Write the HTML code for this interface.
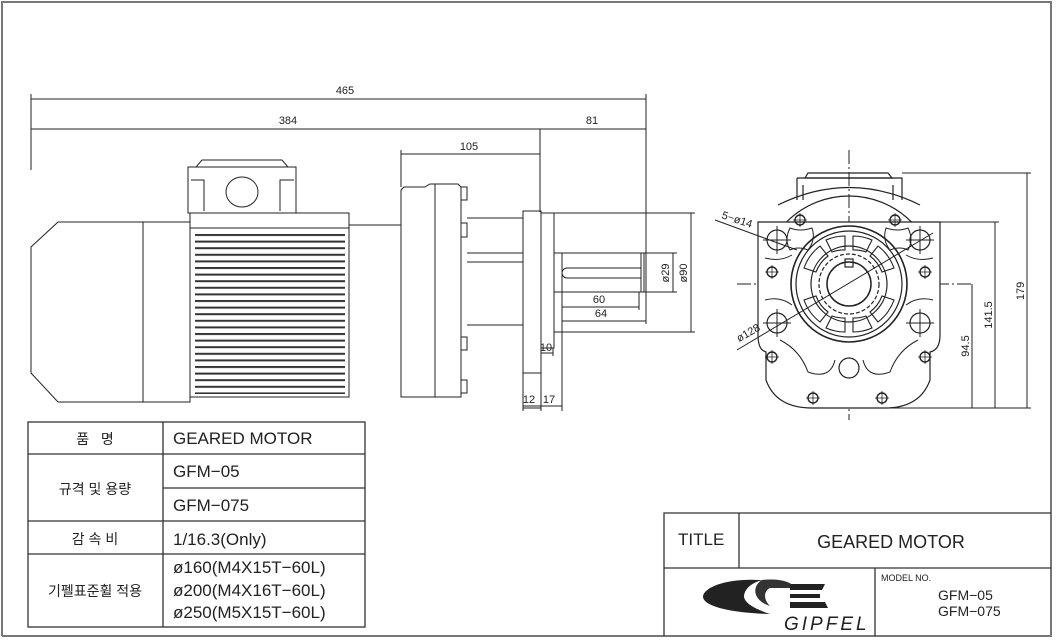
<!DOCTYPE html>
<html><head><meta charset="utf-8"><style>
html,body{margin:0;padding:0;background:#fff;}
svg{display:block;}
text{font-family:"Liberation Sans","Noto Sans CJK KR",sans-serif;fill:#222;}
</style></head><body>
<svg width="1056" height="642" viewBox="0 0 1056 642" xmlns="http://www.w3.org/2000/svg">
<defs>
<pattern id="fins" x="0" y="234" width="10" height="6.6" patternUnits="userSpaceOnUse">
<rect x="0" y="0" width="10" height="2" fill="#333"/>
</pattern>
</defs>
<rect x="0" y="0" width="1056" height="642" fill="#fff"/>
<path d="M2,636 V2 H1051 V636 H2" fill="none" stroke="#777" stroke-width="2"/>

<g stroke="#222" stroke-width="1" fill="none">
<line x1="31" y1="99" x2="646" y2="99"/>
<line x1="31" y1="129" x2="646" y2="129"/>
<line x1="401" y1="154" x2="540" y2="154"/>
<line x1="31" y1="94" x2="31" y2="170"/>
<line x1="646" y1="94" x2="646" y2="255"/>
<line x1="540" y1="129" x2="540" y2="212"/>
<line x1="401" y1="150" x2="401" y2="187"/>

<path d="M143,222 H58 L31,247 V373 L58,402 H143 Z"/>
<rect x="143" y="222" width="47" height="180"/>
<rect x="190" y="213" width="159" height="184"/>
<line x1="190" y1="228" x2="349" y2="228"/>
<rect x="195" y="234" width="150" height="160" fill="url(#fins)" stroke="none"/>
<path d="M202,160 H282 L288,167 H196 Z"/>
<rect x="188" y="167" width="108" height="46"/>
<path d="M191,180 H204 V211 M294,180 H280 V211"/>
<ellipse cx="242" cy="192" rx="16" ry="15"/>
<line x1="349" y1="225" x2="401" y2="225"/>
<path d="M401,397 V190 L404,187 H425 L430,184 H458 L461,187 V397 Z"/>
<line x1="435" y1="184" x2="435" y2="397"/>
<rect x="461" y="187" width="6" height="13"/>
<rect x="461" y="223" width="6" height="14"/>
<rect x="461" y="337" width="6" height="13"/>
<rect x="461" y="380" width="6" height="13"/>
<line x1="467" y1="218" x2="523" y2="218"/>
<line x1="467" y1="253" x2="523" y2="253"/>
<line x1="467" y1="262" x2="523" y2="262"/>
<line x1="467" y1="325" x2="523" y2="325"/>
<rect x="523" y="211" width="18" height="197"/>
<line x1="523" y1="373" x2="541" y2="373"/>
<rect x="541" y="213" width="13" height="135"/>
<rect x="554" y="253" width="90" height="39"/>
<line x1="562" y1="253" x2="562" y2="292"/>
<path d="M641,268 H567 A5,5 0 0 0 567,278 H641"/>
<rect x="641" y="253" width="5" height="39"/>
<line x1="646" y1="253" x2="677" y2="253"/>
<line x1="646" y1="292" x2="677" y2="292"/>
<line x1="673" y1="253" x2="673" y2="292"/>
<line x1="554" y1="213" x2="695" y2="213"/>
<line x1="554" y1="332" x2="695" y2="332"/>
<line x1="691" y1="213" x2="691" y2="332"/>
<line x1="562" y1="292" x2="562" y2="324"/>
<line x1="562" y1="307" x2="639" y2="307"/>
<line x1="639" y1="292" x2="639" y2="310"/>
<line x1="562" y1="321" x2="646" y2="321"/>
<line x1="646" y1="292" x2="646" y2="324"/>
<line x1="541" y1="348" x2="541" y2="356"/>
<line x1="553" y1="348" x2="553" y2="356"/>
<line x1="541" y1="353" x2="553" y2="353"/>
<line x1="523" y1="408" x2="523" y2="411"/>
<line x1="541" y1="408" x2="541" y2="411"/>
<line x1="562" y1="324" x2="562" y2="411"/>
<line x1="523" y1="406" x2="562" y2="406"/>
</g>
<g font-size="11" text-anchor="middle">
<text x="345" y="94">465</text>
<text x="288" y="124">384</text>
<text x="592" y="124">81</text>
<text x="469" y="150">105</text>
<text x="599" y="303">60</text>
<text x="601" y="317">64</text>
<text x="546" y="351">10</text>
<text x="529" y="403">12</text>
<text x="549" y="403">17</text>
<text transform="translate(669,273) rotate(-90)">ø29</text>
<text transform="translate(687,273) rotate(-90)">ø90</text>
</g>

<g stroke="#222" stroke-width="1.2" fill="none">
<line x1="849" y1="150" x2="849" y2="420" stroke-dasharray="14,3,2,3" stroke-width="1"/>
<line x1="737" y1="284" x2="973" y2="284" stroke-dasharray="14,3,2,3" stroke-width="1"/>
<path d="M808,173 H888 L892,178 H805 Z"/>
<path d="M797,178 H902 V200 M797,178 V200"/>
<path d="M803,185 V200 M893,185 V200"/>
<circle cx="849" cy="284" r="88"/>
<path d="M762,222 H940 V335 Q940,350 930,352 V380 Q920,408 885,408 H812 Q776,408 766,380 V352 Q758,350 758,335 V222 Z" fill="#fff"/>
<path d="M778,205 Q849,170 920,205" />
<circle cx="849" cy="284" r="58" stroke-width="1.6"/>
<circle cx="849" cy="284" r="53"/>
<circle cx="849" cy="284" r="38"/>
<circle cx="849" cy="284" r="30" stroke-dasharray="4,2"/>
<circle cx="849" cy="284" r="22" stroke-width="1.5"/>
<rect x="845" y="259" width="8" height="8"/>
<g stroke-width="1.1">
<path d="M826,240 A48,48 0 0 1 845,236 V250 A36,36 0 0 0 832,252 Z"/>
<path d="M872,240 A48,48 0 0 0 853,236 V250 A36,36 0 0 1 866,252 Z"/>
<path d="M826,328 A48,48 0 0 0 845,332 V318 A36,36 0 0 1 832,316 Z"/>
<path d="M872,328 A48,48 0 0 1 853,332 V318 A36,36 0 0 0 866,316 Z"/>
<path d="M804,268 A48,48 0 0 1 820,246 L828,256 A36,36 0 0 0 816,272 Z"/>
<path d="M894,268 A48,48 0 0 0 878,246 L870,256 A36,36 0 0 1 882,272 Z"/>
<path d="M804,300 A48,48 0 0 0 820,322 L828,312 A36,36 0 0 1 816,296 Z"/>
<path d="M894,300 A48,48 0 0 1 878,322 L870,312 A36,36 0 0 0 882,296 Z"/>
</g>
<g>
<circle cx="777" cy="240" r="10"/><circle cx="920" cy="240" r="10"/>
<circle cx="777" cy="323" r="10"/><circle cx="920" cy="323" r="10"/>
<circle cx="849" cy="368" r="10"/>
</g>
<g stroke-width="1">
<path d="M763,240 H791 M777,226 V254 M906,240 H934 M920,226 V254 M763,323 H791 M777,309 V337 M906,323 H934 M920,309 V337"/>
</g>
<g stroke-width="1.4">
<circle cx="800" cy="220" r="5"/><circle cx="895" cy="220" r="5"/>
<circle cx="772" cy="272" r="5"/><circle cx="925" cy="272" r="5"/>
<circle cx="772" cy="357" r="5"/><circle cx="925" cy="357" r="5"/>
<circle cx="813" cy="398" r="5"/><circle cx="882" cy="398" r="5"/>
</g>
<g stroke-width="0.8">
<path d="M793,220 H807 M800,213 V227 M888,220 H902 M895,213 V227 M765,272 H779 M772,265 V279 M918,272 H932 M925,265 V279 M765,357 H779 M772,350 V364 M918,357 H932 M925,350 V364 M806,398 H820 M813,391 V405 M875,398 H889 M882,391 V405"/>
</g>
<path d="M790,228 Q800,232 812,228 Q816,240 808,250 Q798,246 790,250 Q784,240 790,228 Z" stroke-width="1"/>
<path d="M908,228 Q898,232 886,228 Q882,240 890,250 Q900,246 908,250 Q914,240 908,228 Z" stroke-width="1"/>
<path d="M765,258 Q780,262 792,255 M765,300 Q780,296 792,305 M933,258 Q918,262 906,255 M933,300 Q918,296 906,305" stroke-width="1"/>
<path d="M780,340 Q800,350 808,372 Q830,380 835,360 M918,340 Q898,350 890,372 Q868,380 863,360" stroke-width="1"/>
<line x1="715" y1="220" x2="797" y2="250" stroke-width="1"/>
<line x1="737" y1="350" x2="933" y2="233" stroke-width="1"/>
<g stroke-width="1">
<line x1="902" y1="173" x2="1031" y2="173"/>
<line x1="940" y1="222" x2="999" y2="222"/>
<line x1="849" y1="408" x2="1031" y2="408"/>
<line x1="972" y1="284" x2="972" y2="408"/>
<line x1="995" y1="222" x2="995" y2="408"/>
<line x1="1027" y1="173" x2="1027" y2="408"/>
</g>
</g>
<g font-size="11" text-anchor="middle">
<text transform="translate(736,223) rotate(18)">5−ø14</text>
<text transform="translate(750,336) rotate(-30)">ø128</text>
<text transform="translate(969,346) rotate(-90)">94.5</text>
<text transform="translate(992,315) rotate(-90)">141.5</text>
<text transform="translate(1024,291) rotate(-90)">179</text>
</g>

<g stroke="#333" stroke-width="1.3" fill="none">
<rect x="28" y="422" width="337" height="205"/>
<line x1="163" y1="422" x2="163" y2="627"/>
<line x1="28" y1="454" x2="365" y2="454"/>
<line x1="163" y1="488" x2="365" y2="488"/>
<line x1="28" y1="521" x2="365" y2="521"/>
<line x1="28" y1="554" x2="365" y2="554"/>
</g>
<g font-size="17">
<text x="95" y="444" text-anchor="middle" font-size="14">품&#160;&#160;&#160;명</text>
<text x="95" y="494" text-anchor="middle" font-size="14">규격 및 용량</text>
<text x="95" y="544" text-anchor="middle" font-size="14">감 속 비</text>
<text x="95" y="596" text-anchor="middle" font-size="14">기펠표준휠 적용</text>
<text x="173" y="444">GEARED MOTOR</text>
<text x="173" y="477">GFM−05</text>
<text x="173" y="511">GFM−075</text>
<text x="173" y="545">1/16.3(Only)</text>
<text x="173" y="573">ø160(M4X15T−60L)</text>
<text x="173" y="596">ø200(M4X16T−60L)</text>
<text x="173" y="618">ø250(M5X15T−60L)</text>
</g>

<g stroke="#333" stroke-width="1.3" fill="none">
<path d="M1051,513 H664 V636"/>
<line x1="664" y1="568" x2="1051" y2="568"/>
<line x1="739" y1="513" x2="739" y2="568"/>
<line x1="875" y1="568" x2="875" y2="636"/>
</g>
<text x="678" y="545" font-size="17">TITLE</text>
<text x="891" y="548" font-size="18" text-anchor="middle">GEARED MOTOR</text>
<text x="881" y="581" font-size="9">MODEL NO.</text>
<text x="938" y="600" font-size="14">GFM−05</text>
<text x="938" y="616" font-size="14">GFM−075</text>
<path d="M760,580 C730,578 705,586 703,596 C702,606 730,613 770,614 C752,608 744,602 744,596 C745,588 752,583 762,580 Z" fill="#222"/>
<path d="M762,580 C780,578 792,582 795,588 L770,588 C765,590 762,598 770,606 C752,600 752,586 762,580 Z" fill="#333"/>
<path d="M790,584 H825 L822,590 H790 Z M790,594 H820 V598 H790 Z M790,602 H825 L828,608 H790 Z" fill="#222"/>
<text x="784" y="630" font-size="19" font-style="italic" letter-spacing="3">GIPFEL</text>
</svg>
</body></html>
